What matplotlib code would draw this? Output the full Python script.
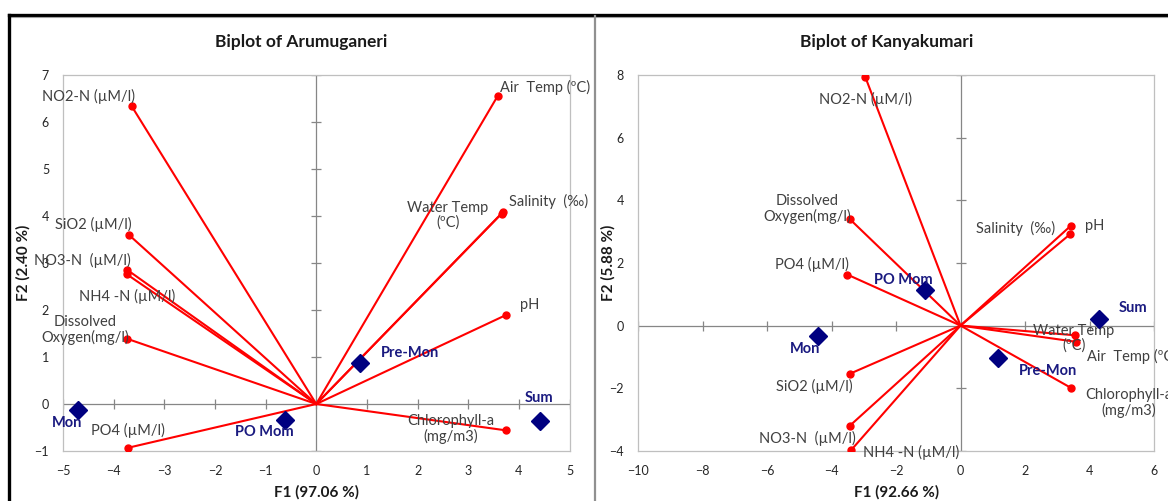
import matplotlib
matplotlib.use("Agg")
import matplotlib.pyplot as plt
from matplotlib.lines import Line2D

plt.rcParams['font.family'] = ['Lato', 'DejaVu Sans']

# ---- Arumuganeri ----
aru_vars = ['NO2-N (µM/l)', 'Air  Temp (ºC)', 'Water Temp\n(ºC)', 'Salinity  (‰)', 'pH',
            'Chlorophyll-a\n(mg/m3)', 'SiO2 (µM/l)', 'NO3-N  (µM/l)', 'NH4 -N (µM/l)',
            'Dissolved\nOxygen(mg/l)', 'PO4 (µM/l)']
aru_f1 = [-3.64, 3.58, 3.66, 3.69, 3.74, 3.74, -3.70, -3.74, -3.74, -3.74, -3.71]
aru_f2 = [6.33, 6.55, 4.05, 4.09, 1.89, -0.56, 3.60, 2.86, 2.76, 1.39, -0.93]
aru_obs = ['Mon', 'PO Mom', 'Pre-Mon', 'Sum']
aru_obs_f1 = [-4.70, -0.61, 0.86, 4.42]
aru_obs_f2 = [-0.13, -0.35, 0.88, -0.36]

# ---- Kanyakumari ----
kan_vars = ['NO2-N (µM/l)', 'Dissolved\nOxygen(mg/l)', 'PO4 (µM/l)', 'Salinity  (‰)', 'pH',
            'Water Temp\n(ºC)', 'Air  Temp (ºC)', 'Chlorophyll-a\n(mg/m3)', 'SiO2 (µM/l)',
            'NO3-N  (µM/l)', 'NH4 -N (µM/l)']
kan_f1 = [-2.95, -3.44, -3.51, 3.42, 3.41, 3.54, 3.59, 3.44, -3.43, -3.43, -3.39]
kan_f2 = [7.94, 3.41, 1.63, 3.19, 2.93, -0.31, -0.52, -2.00, -1.54, -3.20, -3.98]
kan_obs = ['Mon', 'PO Mom', 'Pre-Mon', 'Sum']
kan_obs_f1 = [-4.43, -1.10, 1.15, 4.31]
kan_obs_f2 = [-0.34, 1.15, -1.03, 0.20]

# label offsets in pixels (layout only)
aru_var_off = [(-43, 10, 'center'), (47, 9, 'center'), (-54, -2, 'center'), (45, 10, 'center'),
               (24, 10, 'center'), (-55, 1, 'center'), (-36, 10, 'center'), (-44, 9, 'center'),
               (0, -22, 'center'), (-42, 9, 'center'), (0, 17, 'center')]
aru_obs_off = [(-11, -13), (-21, -12), (50, 10), (-1, 23)]
kan_var_off = [(0, -22, 'center'), (-42, 10, 'center'), (-35, 10, 'center'), (-55, -3, 'center'),
               (24, 8, 'center'), (-1, -3, 'center'), (11, -15, 'left'), (57, -15, 'center'),
               (-36, -13, 'center'), (-43, -13, 'center'), (60, -2, 'center')]
kan_obs_off = [(-13, -13), (-22, 10), (50, -13), (34, 11)]

W, H = 1168, 501
fig = plt.figure(figsize=(W / 100, H / 100), dpi=100)

navy = '#000080'
txt = '#404040'


def px(x0, y0, x1, y1):
    return [x0 / W, 1 - y1 / H, (x1 - x0) / W, (y1 - y0) / H]


def biplot(rect, f1, f2, names, offs, obs, of1, of2, ooffs, xlim, ylim, xt, yt):
    ax = fig.add_axes(rect)
    ax.set_xlim(xlim)
    ax.set_ylim(ylim)
    for s in ax.spines.values():
        s.set_color('#bfbfbf')
        s.set_linewidth(0.9)
    ax.axhline(0, color='#868686', lw=0.9, zorder=1)
    ax.axvline(0, color='#868686', lw=0.9, zorder=1)
    ax.plot(xt, [0] * len(xt), ls='none', marker='|', ms=7, mew=0.9, color='#868686', zorder=1)
    ax.plot([0] * len(yt), yt, ls='none', marker='_', ms=7, mew=0.9, color='#868686', zorder=1)
    ax.set_xticks(xt)
    ax.set_yticks(yt)
    ax.tick_params(length=0, labelsize=9, labelcolor='#262626', pad=10)
    for x, y, n, (dx, dy, ha) in zip(f1, f2, names, offs):
        ax.plot([0, x], [0, y], color='red', lw=1.5, zorder=2)
        ax.plot(x, y, 'o', color='red', ms=5, zorder=3)
        ax.annotate(n, (x, y), xytext=(dx, dy), textcoords='offset pixels', ha=ha,
                    va='center', fontsize=10.5, color=txt, annotation_clip=False,
                    linespacing=1.05, zorder=4)
    ax.plot(of1, of2, 'D', color=navy, ms=9, ls='none', zorder=5)
    for x, y, n, (dx, dy) in zip(of1, of2, obs, ooffs):
        ax.annotate(n, (x, y), xytext=(dx, dy), textcoords='offset pixels', ha='center',
                    va='center', fontsize=10.5, color='#1a1a80', fontweight='bold',
                    annotation_clip=False, zorder=6)
    return ax


biplot(px(63, 75, 569.5, 451), aru_f1, aru_f2, aru_vars, aru_var_off,
       aru_obs, aru_obs_f1, aru_obs_f2, aru_obs_off,
       (-5, 5), (-1, 7), list(range(-5, 6)), list(range(-1, 8)))
biplot(px(638, 75.3, 1154, 450.7), kan_f1, kan_f2, kan_vars, kan_var_off,
       kan_obs, kan_obs_f1, kan_obs_f2, kan_obs_off,
       (-10, 6), (-4, 8), list(range(-10, 7, 2)), list(range(-4, 9, 2)))

# titles and axis labels
title_kw = dict(ha='center', va='center', fontsize=12.5, fontweight='bold', color='#1a1a1a')
lab_kw = dict(ha='center', va='center', fontsize=11, fontweight='bold', color='#1a1a1a')
fig.text(301 / W, 1 - 42 / H, 'Biplot of Arumuganeri', **title_kw)
fig.text(887 / W, 1 - 42 / H, 'Biplot of Kanyakumari', **title_kw)
fig.text(317 / W, 1 - 492 / H, 'F1 (97.06 %)', **lab_kw)
fig.text(897 / W, 1 - 492 / H, 'F1 (92.66 %)', **lab_kw)
fig.text(23 / W, 1 - 263 / H, 'F2 (2.40 %)', rotation=90, **lab_kw)
fig.text(608 / W, 1 - 263 / H, 'F2 (5.88 %)', rotation=90, **lab_kw)

# outer frame and panel divider
fig.add_artist(Line2D([8.5 / W, 1], [1 - 14.5 / H] * 2, color='black', lw=2.4))
fig.add_artist(Line2D([8.5 / W, 1], [1 - 16.5 / H] * 2, color='#a0a0a0', lw=0.8))
fig.add_artist(Line2D([8.5 / W] * 2, [0, 1 - 14.5 / H], color='black', lw=2.4))
fig.add_artist(Line2D([594.5 / W] * 2, [0, 1 - 16 / H], color='#909090', lw=1.6))

fig.savefig('out.png', dpi=100)
